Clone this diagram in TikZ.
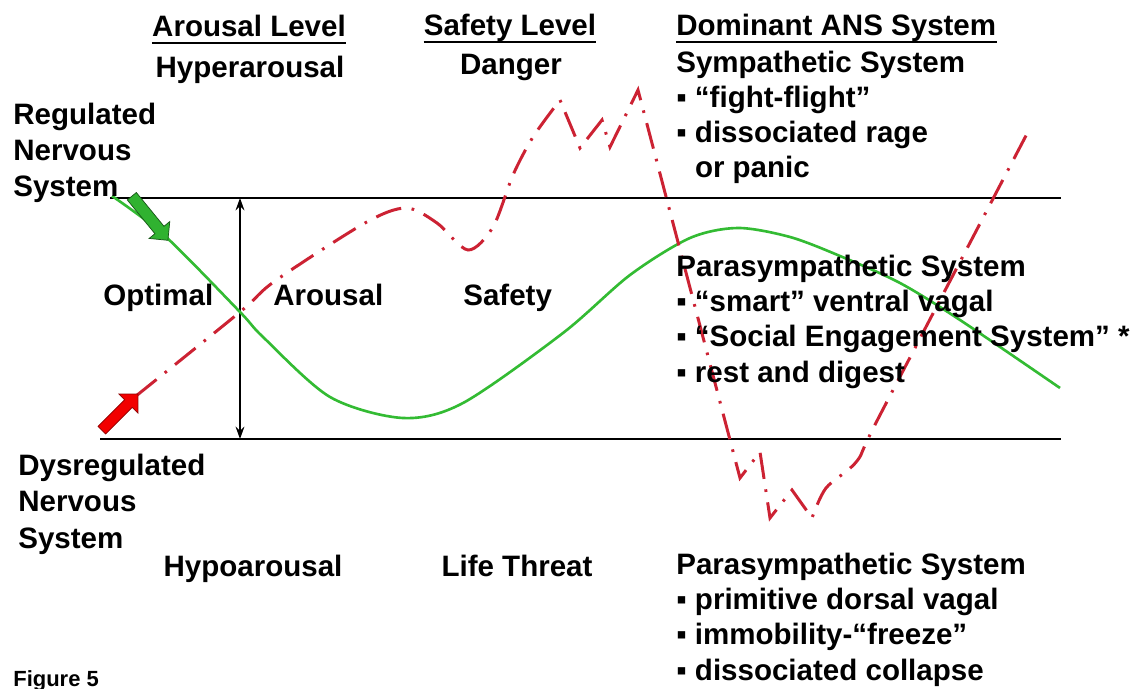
\documentclass[tikz,border=0pt]{standalone}
\usepackage{fontspec}
\setmainfont{Liberation Sans}
\usepackage{tikz}
\usetikzlibrary{arrows.meta,shapes.arrows}

\definecolor{ansred}{RGB}{204,34,51}
\definecolor{ansgreen}{RGB}{51,187,51}

\begin{document}
\begin{tikzpicture}[x=0.02cm, y=-0.02cm,
  lbl/.style={font=\fontsize{16.8}{20.5}\selectfont\bfseries, inner sep=0pt, anchor=base west, align=left},
  col/.style={lbl, font=\fontsize{16.8}{20}\selectfont\bfseries},
  hd/.style={lbl, text depth=3pt},
  uline/.style={line width=1.1pt},
  band/.style={line width=1.6pt},
  rng/.style={{Stealth[length=7pt,width=5pt]}-{Stealth[length=7pt,width=5pt]}, line width=1.1pt},
  gcurve/.style={ansgreen, line width=1.5pt},
  rcurve/.style={ansred, line width=1.7pt, dash pattern=on 15pt off 6pt on 1.5pt off 6pt},
  garr/.style={single arrow, draw=ansgreen!45!black, fill=ansgreen!95!black, inner sep=0.11cm,
    minimum height=1.14cm, single arrow head extend=0.15cm},
  rarr/.style={single arrow, draw=red!55!black, fill=red!95!black, inner sep=0.1cm,
    minimum height=1.02cm, single arrow head extend=0.16cm}
]
\useasboundingbox (0,0) rectangle (1136,689);
% band of optimal arousal
\coordinate (tl) at (110,198); \coordinate (tr) at (1061,198);
\coordinate (bl) at (100,439); \coordinate (br) at (1061,439);
\coordinate (vt) at (240,198); \coordinate (vb) at (240,439);
\draw[band] (tl) -- (tr);
\draw[band] (bl) -- (br);
\draw[rng] (vt) -- (vb);
% regulated (green) and dysregulated (red) curves
\draw[gcurve] plot[smooth] coordinates {(112,196) (165,236) (240,312) (263,337) (330,397) (403,418)
  (463,403) (563,333) (630,275) (690,238) (738,228) (790,237) (840,256) (900,283) (960,320) (1060,388)};
\draw[rcurve] plot[smooth, tension=0.5] coordinates {(136,396) (240,312) (275,281) (365,223) (406,208)
  (437,223) (468,250) (493,227) (513,175) (533,137) (560,100)}
  -- (580,148) -- (602,120) -- (610,147) -- (638,90) -- (740,478) -- (760,452) -- (770,518)
  -- (792,490) -- (812,518)
  -- plot[smooth, tension=0.5] coordinates {(812,518) (826,488) (857,461) (880,415) (1030,128)};
\node[garr, rotate=-50.7] (gArr) at (148,216) {};
\node[rarr, rotate=45] (rArr) at (118,414) {};
% column headings
\node[hd, anchor=base] (alvl) at (249,37) {Arousal Level};
\node[hd, anchor=base] (slvl) at (510,36) {Safety Level};
\node[hd] (dans) at (676,36) {Dominant ANS System};
\draw[uline] (alvl.south west) -- (alvl.south east);
\draw[uline] (slvl.south west) -- (slvl.south east);
\draw[uline] (dans.south west) -- (dans.south east);
% top row
\node[lbl, anchor=base] (hyper) at (250,78) {Hyperarousal};
\node[lbl, anchor=base] (dang) at (511,75) {Danger};
\node[col] (symp) at (676,178) {Sympathetic System\\▪ “fight-flight”\\▪ dissociated rage\\\phantom{▪ }or panic};
% middle row
\node[lbl] (reg) at (13,197) {Regulated\\Nervous\\System};
\node[lbl] (opt) at (103,305) {Optimal};
\node[lbl] (aro) at (273,305) {Arousal};
\node[lbl] (saf) at (463,305) {Safety};
\node[col] (vent) at (676,382) {Parasympathetic System\\▪ “smart” ventral vagal\\▪ “Social Engagement System” *\\▪ rest and digest};
% bottom row
\node[lbl] (dysr) at (18,548) {Dysregulated\\Nervous\\System};
\node[lbl, anchor=base] (hypo) at (253,576) {Hypoarousal};
\node[lbl, anchor=base] (life) at (517,576) {Life Threat};
\node[col] (dors) at (676,680) {Parasympathetic System\\▪ primitive dorsal vagal\\▪ immobility-“freeze”\\▪ dissociated collapse};
\node[font=\fontsize{12.5}{14}\selectfont\bfseries, inner sep=0pt, anchor=base west] (fig) at (13,686) {Figure 5};
\end{tikzpicture}
\end{document}
